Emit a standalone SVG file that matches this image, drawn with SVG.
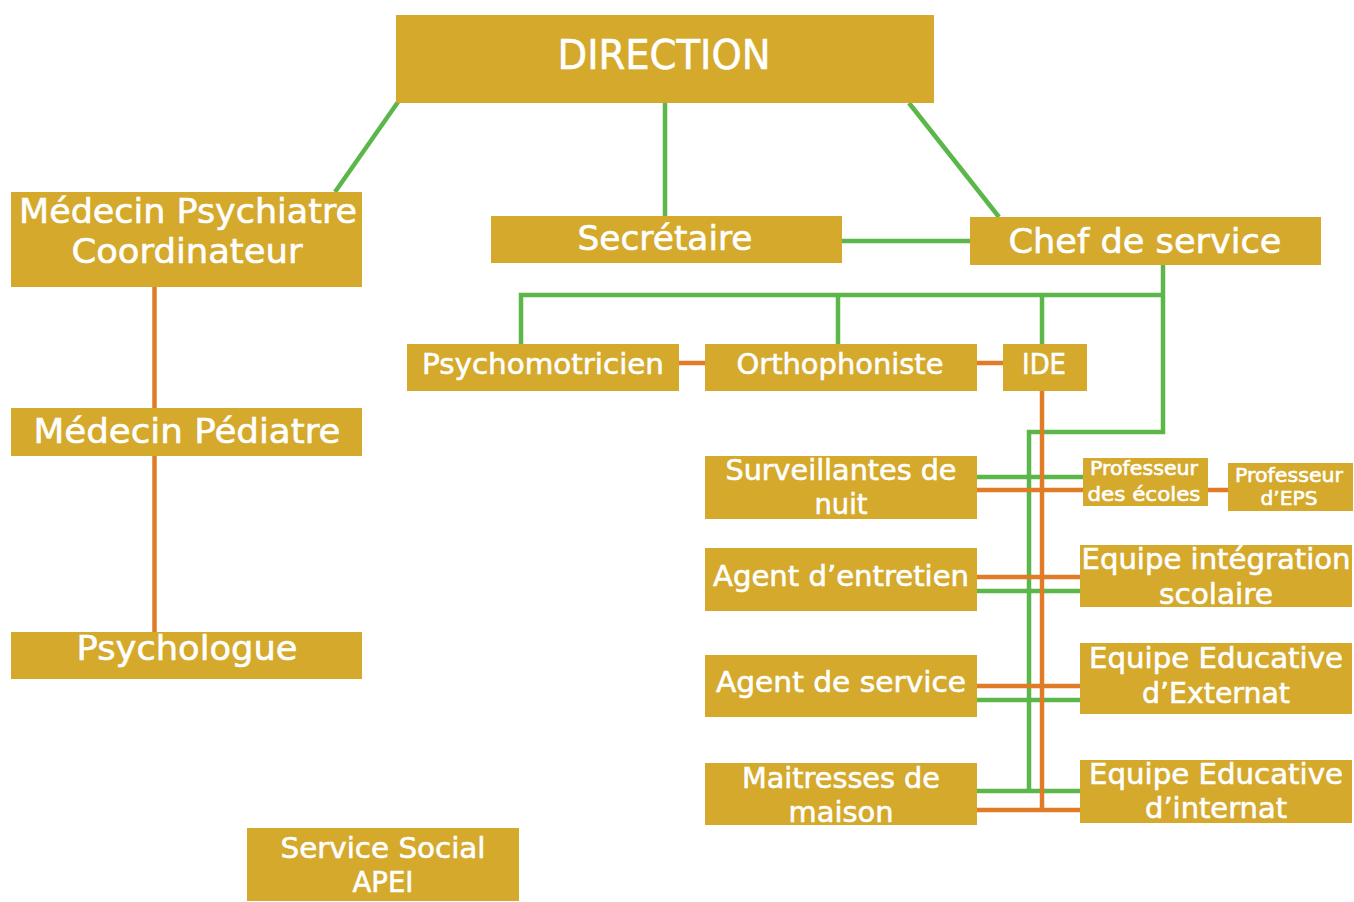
<svg xmlns="http://www.w3.org/2000/svg" width="1354" height="902" viewBox="0 0 1354 902">
<style>
.box{fill:#D4A92C}
text{font-family:"DejaVu Sans","Liberation Sans",sans-serif;fill:#FFFFFF;stroke:#FFFFFF;stroke-width:0.6;text-anchor:middle}
.g{stroke:#5BB749;stroke-width:4.5;fill:none}
.o{stroke:#E07B28;stroke-width:4.5;fill:none}
</style>
<rect width="1354" height="902" fill="#FFFFFF"/>
<g id="connectors">
<line class="g" x1="398" y1="102" x2="335" y2="192"/>
<line class="g" x1="665" y1="103" x2="665" y2="216"/>
<line class="g" x1="909" y1="103" x2="999" y2="217"/>
<line class="g" x1="841" y1="241" x2="970" y2="241"/>
<polyline class="g" points="1163,264 1163,432 1029,432 1029,791"/>
<polyline class="g" points="521,344 521,295 1163,295"/>
<line class="g" x1="838" y1="295" x2="838" y2="344"/>
<line class="g" x1="1042" y1="295" x2="1042" y2="344"/>
<line class="g" x1="976" y1="477" x2="1083" y2="477"/>
<line class="g" x1="976" y1="591" x2="1080" y2="591"/>
<line class="g" x1="976" y1="700" x2="1080" y2="700"/>
<line class="g" x1="976" y1="791" x2="1080" y2="791"/>
<line class="o" x1="154.5" y1="286" x2="154.5" y2="408"/>
<line class="o" x1="154.5" y1="455" x2="154.5" y2="632"/>
<line class="o" x1="678" y1="363" x2="705" y2="363"/>
<line class="o" x1="976" y1="363" x2="1003" y2="363"/>
<line class="o" x1="1042" y1="390" x2="1042" y2="810"/>
<line class="o" x1="976" y1="490" x2="1083" y2="490"/>
<line class="o" x1="1207" y1="490" x2="1228" y2="490"/>
<line class="o" x1="976" y1="577" x2="1080" y2="577"/>
<line class="o" x1="976" y1="686" x2="1080" y2="686"/>
<line class="o" x1="976" y1="810" x2="1080" y2="810"/>
</g>
<g id="direction"><rect class="box" x="396" y="15" width="538" height="88"/><text x="664" y="69" font-size="41" textLength="213" lengthAdjust="spacingAndGlyphs">DIRECTION</text></g>
<g id="medecin-psychiatre"><rect class="box" x="11" y="192" width="351" height="95"/><text x="188" y="223" font-size="34" textLength="338" lengthAdjust="spacingAndGlyphs">Médecin Psychiatre</text><text x="187" y="263" font-size="34" textLength="231" lengthAdjust="spacingAndGlyphs">Coordinateur</text></g>
<g id="secretaire"><rect class="box" x="491" y="216" width="351" height="47"/><text x="665" y="250" font-size="34" textLength="175" lengthAdjust="spacingAndGlyphs">Secrétaire</text></g>
<g id="chef"><rect class="box" x="970" y="217" width="351" height="48"/><text x="1145" y="253" font-size="34" textLength="273" lengthAdjust="spacingAndGlyphs">Chef de service</text></g>
<g id="psychomotricien"><rect class="box" x="407" y="344" width="272" height="47"/><text x="543" y="374" font-size="29" textLength="242" lengthAdjust="spacingAndGlyphs">Psychomotricien</text></g>
<g id="orthophoniste"><rect class="box" x="705" y="344" width="272" height="47"/><text x="840" y="374" font-size="29" textLength="207" lengthAdjust="spacingAndGlyphs">Orthophoniste</text></g>
<g id="ide"><rect class="box" x="1003" y="344" width="84" height="47"/><text x="1044" y="374" font-size="29" textLength="44" lengthAdjust="spacingAndGlyphs">IDE</text></g>
<g id="medecin-pediatre"><rect class="box" x="11" y="408" width="351" height="48"/><text x="187" y="443" font-size="34" textLength="307" lengthAdjust="spacingAndGlyphs">Médecin Pédiatre</text></g>
<g id="psychologue"><rect class="box" x="11" y="632" width="351" height="47"/><text x="187" y="660" font-size="34" textLength="221" lengthAdjust="spacingAndGlyphs">Psychologue</text></g>
<g id="surveillantes"><rect class="box" x="705" y="456" width="272" height="63"/><text x="841" y="480" font-size="28" textLength="231" lengthAdjust="spacingAndGlyphs">Surveillantes de</text><text x="841" y="514" font-size="28" textLength="53" lengthAdjust="spacingAndGlyphs">nuit</text></g>
<g id="agent-entretien"><rect class="box" x="705" y="548" width="272" height="63"/><text x="841" y="586" font-size="28" textLength="256" lengthAdjust="spacingAndGlyphs">Agent d’entretien</text></g>
<g id="agent-service"><rect class="box" x="705" y="655" width="272" height="62"/><text x="841" y="692" font-size="28" textLength="250" lengthAdjust="spacingAndGlyphs">Agent de service</text></g>
<g id="maitresses"><rect class="box" x="705" y="763" width="272" height="62"/><text x="841" y="788" font-size="28" textLength="198" lengthAdjust="spacingAndGlyphs">Maitresses de</text><text x="841" y="822" font-size="28" textLength="105" lengthAdjust="spacingAndGlyphs">maison</text></g>
<g id="prof-ecoles"><rect class="box" x="1083" y="458" width="125" height="48"/><text x="1144" y="475" font-size="20" textLength="108" lengthAdjust="spacingAndGlyphs">Professeur</text><text x="1144" y="501" font-size="20" textLength="113" lengthAdjust="spacingAndGlyphs">des écoles</text></g>
<g id="prof-eps"><rect class="box" x="1228" y="463" width="125" height="48"/><text x="1289" y="482" font-size="20" textLength="108" lengthAdjust="spacingAndGlyphs">Professeur</text><text x="1289" y="505" font-size="20" textLength="57" lengthAdjust="spacingAndGlyphs">d’EPS</text></g>
<g id="equipe-integration"><rect class="box" x="1080" y="545" width="272" height="62"/><text x="1216" y="569" font-size="28" textLength="269" lengthAdjust="spacingAndGlyphs">Equipe intégration</text><text x="1216" y="604" font-size="28" textLength="114" lengthAdjust="spacingAndGlyphs">scolaire</text></g>
<g id="equipe-externat"><rect class="box" x="1080" y="643" width="272" height="71"/><text x="1216" y="668" font-size="28" textLength="254" lengthAdjust="spacingAndGlyphs">Equipe Educative</text><text x="1216" y="703" font-size="28" textLength="148" lengthAdjust="spacingAndGlyphs">d’Externat</text></g>
<g id="equipe-internat"><rect class="box" x="1080" y="760" width="272" height="63"/><text x="1216" y="784" font-size="28" textLength="254" lengthAdjust="spacingAndGlyphs">Equipe Educative</text><text x="1216" y="818" font-size="28" textLength="142" lengthAdjust="spacingAndGlyphs">d’internat</text></g>
<g id="service-social"><rect class="box" x="247" y="828" width="272" height="73"/><text x="383" y="858" font-size="28" textLength="205" lengthAdjust="spacingAndGlyphs">Service Social</text><text x="383" y="892" font-size="28" textLength="61" lengthAdjust="spacingAndGlyphs">APEI</text></g>
</svg>
